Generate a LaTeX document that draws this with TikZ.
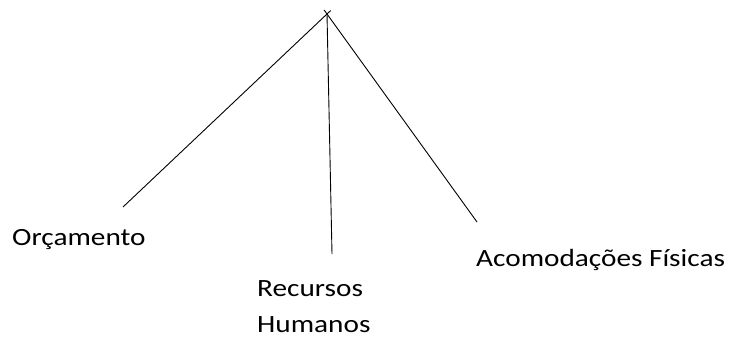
\documentclass[tikz,border=0pt]{standalone}
\usepackage{fontspec}
\setmainfont{Carlito}
\usetikzlibrary{calc}

\tikzset{
  branch/.style={black,line width=0.9pt},
  leaf/.style={inner sep=0pt,align=left,xscale=1.18,
    font=\fontsize{24.8}{36}\selectfont}
}

\begin{document}
\begin{tikzpicture}[x=1pt,y=-1pt]

    \useasboundingbox (0,0) rectangle (730,338);

    %% top of the tree
    \coordinate (top) at (327,14);

    %% free ends of the branches
    \coordinate (endorc) at (123,207);
    \coordinate (endrec) at (332,254);
    \coordinate (endaco) at (477,222);

    %%%%%%%%%%%%%%%%
    %% labels
    \node[leaf,anchor=base west] (orc) at (12,245) {Orçamento};
    \node[leaf,anchor=north west] (rec) at (257,280) {Recursos\\Humanos};
    \node[leaf,anchor=base west] (aco) at (476,266) {Acomodações Físicas};

    %%%%%%%%%%%%%%%%
    %% branches (crossing a bit above the top)
    \draw[branch,shorten >=-5pt] (endorc) -- (top);
    \draw[branch] (endrec) -- (top);
    \draw[branch,shorten >=-5pt] (endaco) -- (top);

  \end{tikzpicture}
\end{document}
